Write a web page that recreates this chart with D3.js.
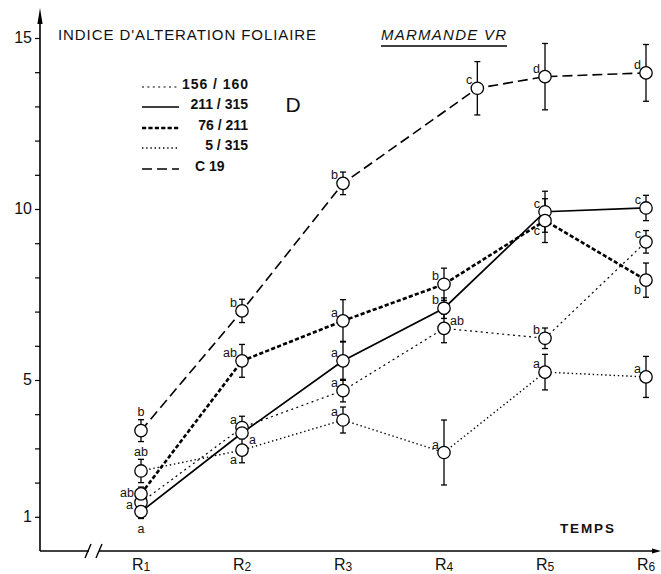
<!DOCTYPE html>
<html><head><meta charset="utf-8">
<script src="https://cdn.jsdelivr.net/npm/d3@7"></script>
<style>
html,body{margin:0;padding:0;background:#fff;}
svg{display:block;}
text{font-family:"Liberation Sans",Arial,sans-serif;fill:#111;}
</style></head>
<body><svg id="chart" width="661" height="574"></svg>
<script>
// ---------------- data ----------------
const times = ["R1","R2","R3","R4","R5","R6"];
const timeIdx = [1,2,3,4,5,6];
const yTicks = [1,2,3,4,5,6,7,8,9,10,11,12,13,14,15];
const yTickLabels = {1:"1",5:"5",10:"10",15:"15"};
const seriesNames = ["156 / 160","211 / 315","76 / 211","5 / 315","C 19"];

const v156 = [1.42,3.61,4.69,6.51,6.22,9.04];
const e156 = [0.20,0.33,0.33,0.42,0.30,0.33];
const l156 = ["a","a","a","ab","b","c"];

const v211 = [1.15,3.45,5.56,7.10,9.92,10.03];
const e211 = [0.20,0.15,0.57,0.30,0.60,0.37];
const l211 = ["a","a","a","b","c","c"];

const v76 = [1.67,5.56,6.73,7.80,9.66,7.92];
const e76 = [0.20,0.48,0.62,0.47,0.64,0.50];
const l76 = ["ab","ab","a","b","c","b"];

const v5 = [2.34,2.95,3.83,2.88,5.23,5.09];
const e5 = [0.34,0.37,0.38,0.95,0.52,0.60];
const l5 = ["ab","a","a","a","a","a"];

const vC19 = [3.52,7.02,10.75,13.53,13.87,13.98];
const eC19 = [0.32,0.34,0.33,0.78,0.97,0.83];
const lC19 = ["b","b","b","c","d","d"];
const tC19 = [1,2,3,4.33,5,6]; // C19's 4th reading is plotted slightly after R4

// letter placements (layout only)
const p156 = ["l2","ul","ul","ur","ul","ul"];
const p211 = ["d","dr","ul","ul","ul","ul"];
const p76  = ["l1","ul","ul","ul","dl","dl"];
const p5   = ["u","dl","ul","ul","ul","ul"];
const pC19 = ["u","ul","ul","ul","ul","ul"];

// ---------------- styles ----------------
const styles = [
  {dash:"2,3.4", w:1.2},
  {dash:null,    w:1.7},
  {dash:"4.2,2.2", w:2.6},
  {dash:"1.4,2.8", w:1.4},
  {dash:"10,5",  w:1.6}
];

const series = [
  {name:seriesNames[0], t:timeIdx, v:v156, e:e156, l:l156, p:p156, s:styles[0]},
  {name:seriesNames[1], t:timeIdx, v:v211, e:e211, l:l211, p:p211, s:styles[1]},
  {name:seriesNames[2], t:timeIdx, v:v76,  e:e76,  l:l76,  p:p76,  s:styles[2]},
  {name:seriesNames[3], t:timeIdx, v:v5,   e:e5,   l:l5,   p:p5,   s:styles[3]},
  {name:seriesNames[4], t:tC19,    v:vC19, e:eC19, l:lC19, p:pC19, s:styles[4]}
];

// ---------------- scales ----------------
const svg = d3.select("#chart");
const x = d3.scaleLinear().domain([1,6]).range([141,646]);
const y = d3.scaleLinear().domain([0,15]).range([551,38]);
const axisX = 40, axisY = y(0);

// y axis
svg.append("line").attr("x1",axisX).attr("x2",axisX).attr("y1",axisY).attr("y2",14)
  .attr("stroke","#000").attr("stroke-width",1.6);
svg.append("path").attr("d",`M${axisX-2.6},24 L${axisX},8 L${axisX+2.6},24 Z`).attr("fill","#000");
const yAxis = d3.axisLeft(y).tickValues(yTicks).tickSize(5).tickFormat(d => yTickLabels[d] || "");
const gy = svg.append("g").attr("transform",`translate(${axisX},0)`).call(yAxis);
gy.select(".domain").remove();
gy.selectAll(".tick line").attr("stroke","#000").attr("stroke-width",1.2);
gy.selectAll(".tick text").attr("font-size",16).attr("x",-8).attr("dy","0.28em")
  .style("font-family","Liberation Sans, Arial, sans-serif").attr("fill","#111");

// x axis with break
svg.append("line").attr("x1",axisX).attr("x2",89).attr("y1",axisY).attr("y2",axisY)
  .attr("stroke","#000").attr("stroke-width",1.6);
svg.append("line").attr("x1",99).attr("x2",656).attr("y1",axisY).attr("y2",axisY)
  .attr("stroke","#000").attr("stroke-width",1.6);
svg.append("line").attr("x1",85).attr("y1",axisY+7).attr("x2",91).attr("y2",axisY-7)
  .attr("stroke","#000").attr("stroke-width",1.4);
svg.append("line").attr("x1",96).attr("y1",axisY+7).attr("x2",102).attr("y2",axisY-7)
  .attr("stroke","#000").attr("stroke-width",1.4);
svg.append("path").attr("d",`M652,${axisY-2.5} L661,${axisY} L652,${axisY+2.5} Z`).attr("fill","#000");

// x labels
const xl = svg.append("g");
times.forEach((t,i) => {
  const tx = xl.append("text").attr("x",x(timeIdx[i])).attr("y",570)
    .attr("text-anchor","middle").attr("font-size",16);
  tx.append("tspan").text(t[0]);
  tx.append("tspan").attr("font-size",12).attr("dy",1).text(t.slice(1));
});

svg.append("text").attr("x",587).attr("y",533).attr("text-anchor","middle")
  .attr("font-size",13.5).attr("font-weight","bold").attr("textLength",54).text("TEMPS");

// titles
svg.append("text").attr("x",58).attr("y",40).attr("font-size",15)
  .attr("textLength",258).attr("lengthAdjust","spacing").text("INDICE D'ALTERATION FOLIAIRE");
svg.append("text").attr("x",381).attr("y",40).attr("font-size",15).attr("font-style","italic")
  .attr("textLength",125).attr("lengthAdjust","spacing").text("MARMANDE VR");
svg.append("line").attr("x1",381).attr("x2",507).attr("y1",46).attr("y2",46)
  .attr("stroke","#000").attr("stroke-width",1.4);
svg.append("text").attr("x",293).attr("y",112).attr("text-anchor","middle")
  .attr("font-size",21).text("D");

// legend
const legY = [87,107,128,148,169];
series.forEach((s,i) => {
  const ln = svg.append("line").attr("x1",142).attr("x2",179).attr("y1",legY[i]).attr("y2",legY[i])
    .attr("stroke","#000").attr("stroke-width",s.s.w);
  if (s.s.dash) ln.attr("stroke-dasharray",s.s.dash);
  const last = i === series.length-1;
  const t = svg.append("text").attr("x", last ? 195 : 248).attr("y",legY[i]+2)
    .attr("text-anchor", last ? "start" : "end")
    .attr("font-size",14).attr("font-weight","bold")
    .text(s.name);
  if (i === 0) t.attr("textLength",66).attr("lengthAdjust","spacing");
});

// plot
const line = d3.line().x(d => x(d.t)).y(d => y(d.v));
const pts = s => s.v.map((v,i) => ({t:s.t[i], v, e:s.e[i], l:s.l[i], p:s.p[i]}));

const place = {
  ul:{dx:-5, dy:-8, a:"end"},
  ur:{dx:6,  dy:-7, a:"start"},
  l1:{dx:-7, dy:-1, a:"end"},
  l2:{dx:-8, dy:3,  a:"end"},
  u: {dx:0,  dy:-19,a:"middle"},
  d: {dx:0,  dy:17, a:"middle"},
  dr:{dx:7,  dy:7,  a:"start"},
  dl:{dx:-5, dy:10, a:"end"}
};

const gLines = svg.append("g"), gErr = svg.append("g"), gPts = svg.append("g"), gLab = svg.append("g");
series.forEach(s => {
  const data = pts(s);
  const path = gLines.append("path").datum(data).attr("d",line)
    .attr("fill","none").attr("stroke","#000").attr("stroke-width",s.s.w);
  if (s.s.dash) path.attr("stroke-dasharray",s.s.dash);

  data.forEach(d => {
    const cx = x(d.t), y1 = y(d.v + d.e), y2 = y(d.v - d.e);
    gErr.append("line").attr("x1",cx).attr("x2",cx).attr("y1",y1).attr("y2",y2)
      .attr("stroke","#000").attr("stroke-width",1.3);
    [y1,y2].forEach(yy => gErr.append("line").attr("x1",cx-3).attr("x2",cx+3)
      .attr("y1",yy).attr("y2",yy).attr("stroke","#000").attr("stroke-width",1.3));
  });

  gPts.selectAll(null).data(data).enter().append("circle")
    .attr("cx",d => x(d.t)).attr("cy",d => y(d.v)).attr("r",6.2)
    .attr("fill","#fff").attr("stroke","#000").attr("stroke-width",1.3);

  data.forEach(d => {
    const pl = place[d.p];
    gLab.append("text").attr("x",x(d.t)+pl.dx).attr("y",y(d.v)+pl.dy)
      .attr("text-anchor",pl.a).attr("dominant-baseline","central")
      .attr("font-size",12.5).attr("fill","#000").text(d.l);
  });
});
</script></body></html>
